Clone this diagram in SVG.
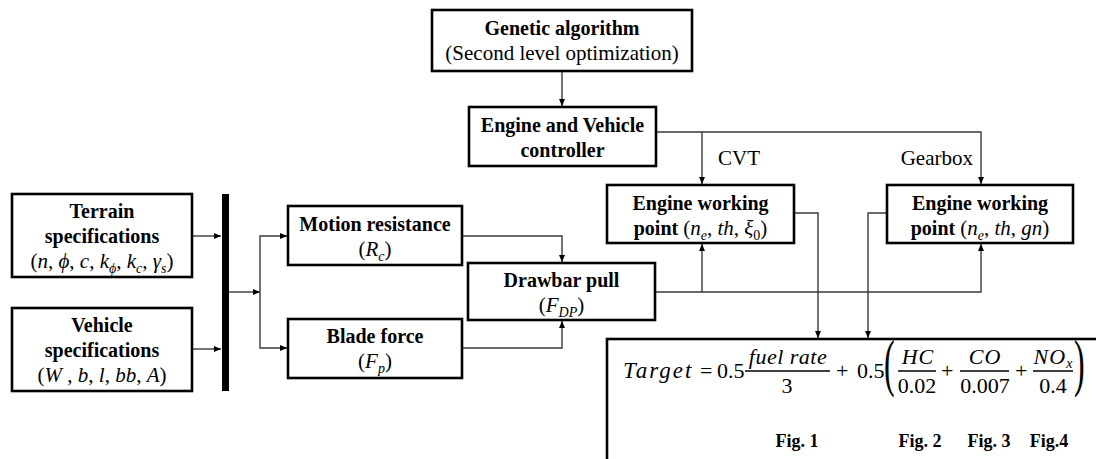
<svg xmlns="http://www.w3.org/2000/svg" width="1096" height="459" viewBox="0 0 1096 459">
<style>
.box{fill:#fff;stroke:#000;stroke-width:2.6}
.b{font-family:"Liberation Serif","Times New Roman",serif;font-weight:bold;font-size:20px;text-anchor:middle;fill:#000}
.r{font-family:"Liberation Serif","Times New Roman",serif;font-size:21px;fill:#000}
.m{font-family:"Liberation Serif","DejaVu Serif",serif;font-size:21px;fill:#000}
.f{font-family:"Liberation Serif","DejaVu Serif",serif;font-size:22px;fill:#000}
.i{font-style:italic}
.s{font-size:14px;font-style:italic}
.c{fill:none;stroke:#3a3a3a;stroke-width:1.4}
.fig{font-family:"Liberation Serif","Times New Roman",serif;font-weight:bold;font-size:18px;text-anchor:middle}
</style>
<defs>
<marker id="ah" markerWidth="8" markerHeight="8" refX="7" refY="4" orient="auto" markerUnits="userSpaceOnUse">
<path d="M0,1 L7,4 L0,7 Z" fill="#000"/>
</marker>
</defs>

<g id="connectors">
<path class="c" d="M192,236 H221" marker-end="url(#ah)"/>
<path class="c" d="M192,349 H221" marker-end="url(#ah)"/>
<path class="c" d="M229,292 H260" marker-end="url(#ah)"/>
<path class="c" d="M260,292 V236 H287" marker-end="url(#ah)"/>
<path class="c" d="M260,292 V348 H287" marker-end="url(#ah)"/>
<path class="c" d="M462,236 H562 V262" marker-end="url(#ah)"/>
<path class="c" d="M462,348 H562 V321" marker-end="url(#ah)"/>
<path class="c" d="M562,71 V106" marker-end="url(#ah)"/>
<path class="c" d="M656,132 H702 V184" marker-end="url(#ah)"/>
<path class="c" d="M702,132 H981 V184" marker-end="url(#ah)"/>
<path class="c" d="M655,292 H981 V244" marker-end="url(#ah)"/>
<path class="c" d="M702,292 V244" marker-end="url(#ah)"/>
<path class="c" d="M794,213 H818 V338" marker-end="url(#ah)"/>
<path class="c" d="M887,213 H868 V338" marker-end="url(#ah)"/>
<path class="c" d="M791,403 V423" marker-end="url(#ah)"/>
<path class="c" d="M922,403 V423" marker-end="url(#ah)"/>
<path class="c" d="M991,403 V423" marker-end="url(#ah)"/>
<path class="c" d="M1039,403 V423" marker-end="url(#ah)"/>
</g>

<g id="bar"><rect x="222" y="194" width="7" height="197" fill="#000"/></g>

<g id="genetic">
<rect class="box" x="432" y="10" width="260" height="61"/>
<text class="b" x="562" y="35">Genetic algorithm</text>
<text class="r" x="562" y="60" text-anchor="middle">(Second level optimization)</text>
</g>

<g id="controller">
<rect class="box" x="469" y="107" width="187" height="59"/>
<text class="b" x="562.5" y="132">Engine and Vehicle</text>
<text class="b" x="562.5" y="157">controller</text>
</g>

<text class="r" x="718" y="165">CVT</text>
<text class="r" x="973" y="165" text-anchor="end">Gearbox</text>

<g id="terrain">
<rect class="box" x="12" y="194" width="180" height="83"/>
<text class="b" x="102" y="218">Terrain</text>
<text class="b" x="102" y="243">specifications</text>
<text class="m" x="102" y="268" text-anchor="middle">(<tspan class="i">n</tspan>, <tspan class="i">ϕ</tspan>, <tspan class="i">c</tspan>, <tspan class="i">k</tspan><tspan class="s" dy="5">ϕ</tspan><tspan dy="-5">, </tspan><tspan class="i">k</tspan><tspan class="s" dy="5">c</tspan><tspan dy="-5">, </tspan><tspan class="i">γ</tspan><tspan class="s" dy="5">s</tspan><tspan dy="-5">)</tspan></text>
</g>

<g id="vehicle">
<rect class="box" x="12" y="308" width="180" height="83"/>
<text class="b" x="102" y="332">Vehicle</text>
<text class="b" x="102" y="357">specifications</text>
<text class="m" x="102" y="382" text-anchor="middle">(<tspan class="i">W</tspan> , <tspan class="i">b</tspan>, <tspan class="i">l</tspan>, <tspan class="i">bb</tspan>, <tspan class="i">A</tspan>)</text>
</g>

<g id="motion">
<rect class="box" x="288" y="206" width="174" height="59"/>
<text class="b" x="375" y="231">Motion resistance</text>
<text class="m" x="375" y="256" text-anchor="middle">(<tspan class="i">R</tspan><tspan class="s" dy="5">c</tspan><tspan dy="-5">)</tspan></text>
</g>

<g id="blade">
<rect class="box" x="288" y="319" width="174" height="59"/>
<text class="b" x="375" y="343">Blade force</text>
<text class="m" x="375" y="368" text-anchor="middle">(<tspan class="i">F</tspan><tspan class="s" dy="5">p</tspan><tspan dy="-5">)</tspan></text>
</g>

<g id="drawbar">
<rect class="box" x="468" y="263" width="187" height="57"/>
<text class="b" x="561.5" y="287">Drawbar pull</text>
<text class="m" x="561.5" y="312" text-anchor="middle">(<tspan class="i">F</tspan><tspan class="s" dy="5">DP</tspan><tspan dy="-5">)</tspan></text>
</g>

<g id="ewp-cvt">
<rect class="box" x="607" y="185" width="187" height="58"/>
<text class="b" x="700.5" y="210">Engine working</text>
<text class="b" x="700.5" y="235">point <tspan class="m" font-weight="normal">(<tspan class="i">n</tspan><tspan class="s" dy="5">e</tspan><tspan dy="-5">, </tspan><tspan class="i">th</tspan>, <tspan class="i">ξ</tspan><tspan font-size="14px" dy="5">0</tspan><tspan dy="-5">)</tspan></tspan></text>
</g>

<g id="ewp-gearbox">
<rect class="box" x="887" y="185" width="186" height="58"/>
<text class="b" x="980" y="210">Engine working</text>
<text class="b" x="980" y="235">point <tspan class="m" font-weight="normal">(<tspan class="i">n</tspan><tspan class="s" dy="5">e</tspan><tspan dy="-5">, </tspan><tspan class="i">th</tspan>, <tspan class="i">gn</tspan>)</tspan></text>
</g>

<g id="target">
<rect class="box" x="607" y="339" width="520" height="160"/>
<text class="f i" x="623" y="378" style="letter-spacing:2px;font-size:23px">Target</text>
<text class="f" x="700" y="378">=</text>
<text class="f" x="717" y="378">0.5</text>
<text class="f i" x="788" y="364" text-anchor="middle" style="letter-spacing:0.5px">fuel rate</text>
<line x1="745" y1="371" x2="830" y2="371" stroke="#000" stroke-width="1.3"/>
<text class="f" x="787" y="393" text-anchor="middle">3</text>
<text class="f" x="836" y="378">+</text>
<text class="f" x="857" y="378">0.5</text>
<text class="f" style="font-size:64px" transform="translate(884,384) scale(0.5,1)">(</text>
<text class="f i" x="918" y="364" text-anchor="middle" style="letter-spacing:1px">HC</text>
<line x1="898" y1="371" x2="936" y2="371" stroke="#000" stroke-width="1.3"/>
<text class="f" x="917" y="393" text-anchor="middle">0.02</text>
<text class="f" x="941" y="378">+</text>
<text class="f i" x="985" y="364" text-anchor="middle" style="letter-spacing:1px">CO</text>
<line x1="960" y1="371" x2="1009" y2="371" stroke="#000" stroke-width="1.3"/>
<text class="f" x="985" y="393" text-anchor="middle">0.007</text>
<text class="f" x="1015" y="378">+</text>
<text class="f" x="1053" y="364" text-anchor="middle"><tspan class="i" style="letter-spacing:1px">NO</tspan><tspan class="s" dy="4">x</tspan></text>
<line x1="1033" y1="371" x2="1073" y2="371" stroke="#000" stroke-width="1.3"/>
<text class="f" x="1053" y="393" text-anchor="middle">0.4</text>
<text class="f" style="font-size:64px" transform="translate(1074,384) scale(0.5,1)">)</text>
<text class="fig" x="797" y="447">Fig. 1</text>
<text class="fig" x="920" y="447">Fig. 2</text>
<text class="fig" x="989" y="447">Fig. 3</text>
<text class="fig" x="1049" y="447">Fig.4</text>
</g>
</svg>
